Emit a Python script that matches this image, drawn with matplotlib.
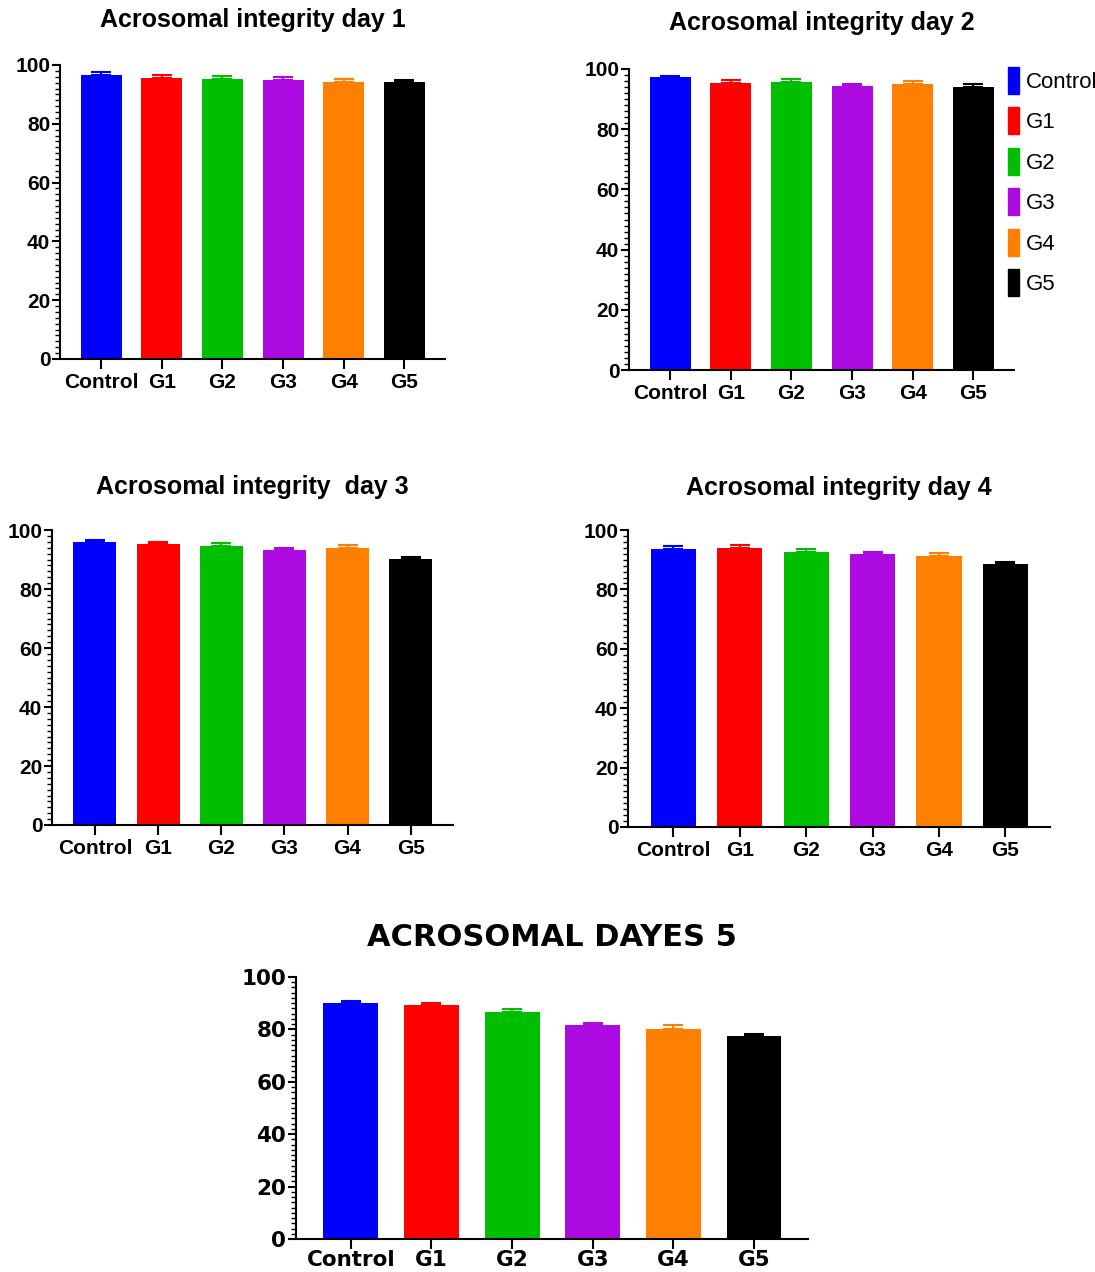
import matplotlib
matplotlib.use("Agg")
import matplotlib.pyplot as plt
from matplotlib.patches import Patch
from matplotlib.ticker import MultipleLocator

groups = ["Control", "G1", "G2", "G3", "G4", "G5"]
colors = ["#0000FF", "#FF0000", "#00BF00", "#AC0AE0", "#FF8000", "#000000"]

day1 = [96.6, 95.5, 95.1, 94.9, 94.2, 94.1]
err1 = [1.1, 1.0, 1.0, 0.9, 0.9, 0.9]
day2 = [97.3, 95.3, 95.7, 94.3, 94.9, 94.0]
err2 = [0.5, 0.9, 0.9, 0.8, 1.0, 0.9]
day3 = [95.8, 95.1, 94.6, 93.1, 93.8, 90.1]
err3 = [0.7, 0.8, 0.9, 0.9, 1.0, 0.8]
day4 = [93.6, 93.8, 92.6, 91.8, 91.2, 88.4]
err4 = [0.9, 1.0, 1.1, 0.9, 1.0, 0.9]
day5 = [90.0, 89.4, 86.8, 81.5, 80.3, 77.5]
err5 = [1.0, 0.8, 0.8, 1.1, 1.2, 0.9]

narrow = ["Liberation Sans Narrow", "Liberation Sans", "DejaVu Sans"]
wide = ["DejaVu Sans"]

W, H = 1095, 1272
fig = plt.figure(figsize=(W / 100, H / 100), dpi=100)


def panel(box, vals, errs, title, fam, tsize, lsize, title_pad, xpad=3):
    l, t, r, b = box
    ax = fig.add_axes([l / W, 1 - b / H, (r - l) / W, (b - t) / H])
    x = range(len(groups))
    ax.bar(x, vals, width=0.68, color=colors, zorder=2)
    for i in x:
        ax.errorbar(i, vals[i], yerr=[[0], [errs[i]]], fmt="none",
                    ecolor=colors[i], elinewidth=1.5, capsize=7,
                    capthick=1.5, zorder=3)
    ax.set_xlim(-0.68, 5.67)
    ax.set_ylim(0, 100)
    ax.yaxis.set_major_locator(MultipleLocator(20))
    ax.yaxis.set_minor_locator(MultipleLocator(2))
    ax.set_xticks(list(x))
    ax.set_xticklabels(groups)
    for s in ["top", "right"]:
        ax.spines[s].set_visible(False)
    for s in ["left", "bottom"]:
        ax.spines[s].set_linewidth(1.5)
    ax.tick_params(axis="y", which="major", length=6, width=1.5, pad=1)
    ax.tick_params(axis="y", which="minor", length=3.5, width=1)
    ax.tick_params(axis="x", length=7, width=1.5, pad=xpad)
    for lab in ax.get_xticklabels() + ax.get_yticklabels():
        lab.set_family(fam)
        lab.set_fontweight("bold")
        lab.set_fontsize(lsize)
    ax.set_title(title, family=fam, fontweight="bold", fontsize=tsize,
                 pad=title_pad)
    return ax


panel((60, 65, 445, 359), day1, err1, "Acrosomal integrity day 1",
      narrow, 18, 15, 27)
ax2 = panel((629, 69, 1014, 370), day2, err2, "Acrosomal integrity day 2",
            narrow, 18, 15, 28)
panel((52, 530, 453, 825), day3, err3, "Acrosomal integrity  day 3",
      narrow, 18, 15, 26)
panel((628, 530, 1050, 827), day4, err4, "Acrosomal integrity day 4",
      narrow, 18, 15, 25)
panel((296, 977, 808, 1239), day5, err5, "ACROSOMAL DAYES 5",
      wide, 22, 15.5, 22, xpad=1)

handles = [Patch(color=c) for c in colors]
fig.legend(handles, groups, loc="upper left",
           bbox_to_anchor=(999 / W, 1 - 58 / H), frameon=False,
           prop={"family": ["Liberation Sans", "DejaVu Sans"], "size": 16},
           handlelength=0.5, handleheight=1.5, handletextpad=0.3,
           labelspacing=0.6, borderaxespad=0)

fig.savefig("out.png", dpi=100)
